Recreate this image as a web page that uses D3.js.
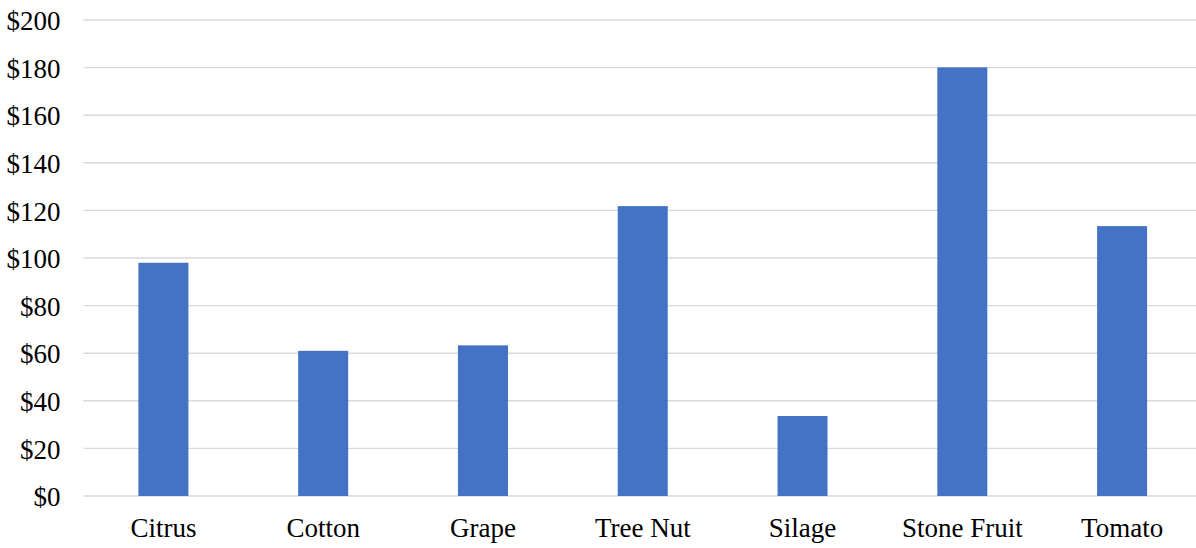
<!DOCTYPE html>
<html>
<head>
<meta charset="utf-8">
<script src="https://cdn.jsdelivr.net/npm/d3@7"></script>
<style>
  html, body { margin: 0; padding: 0; background: #ffffff; }
  svg { display: block; }
  text { font-family: "Liberation Serif", "Times New Roman", serif; fill: #000; }
</style>
</head>
<body>
<svg id="chart" width="1196" height="548"></svg>
<script>
// Crop categories and values (dollars)
const categories = ["Citrus", "Cotton", "Grape", "Tree Nut", "Silage", "Stone Fruit", "Tomato"];
const values = [98, 61, 63.3, 121.8, 33.6, 180.1, 113.4];
const yTicks = [0, 20, 40, 60, 80, 100, 120, 140, 160, 180, 200];

const svg = d3.select("#chart");
const width = 1196, height = 548;
const plot = { left: 83.5, right: 1202, top: 20, bottom: 496 };

const x = d3.scaleBand()
  .domain(categories)
  .range([plot.left, plot.right])
  .paddingInner(0.687)
  .paddingOuter(0.3435);

const y = d3.scaleLinear()
  .domain([0, 200])
  .range([plot.bottom, plot.top]);

// Horizontal gridlines
svg.append("g")
  .selectAll("line")
  .data(yTicks)
  .join("line")
  .attr("x1", plot.left)
  .attr("x2", width)
  .attr("y1", d => y(d))
  .attr("y2", d => y(d))
  .attr("stroke", "#d9d9d9")
  .attr("stroke-width", 1.4);

// Y axis labels
const yAxis = d3.axisLeft(y)
  .tickValues(yTicks)
  .tickSize(0)
  .tickPadding(0)
  .tickFormat(d => "$" + d);

svg.append("g")
  .attr("transform", `translate(${plot.left - 23},0)`)
  .call(yAxis)
  .call(g => g.select(".domain").remove())
  .call(g => g.selectAll("text")
    .attr("font-family", "'Liberation Serif', 'Times New Roman', serif")
    .attr("font-size", 27)
    .attr("dy", "0.36em")
    .attr("fill", "#000"));

// Bars
svg.append("g")
  .selectAll("rect")
  .data(values)
  .join("rect")
  .attr("x", (d, i) => x(categories[i]))
  .attr("width", x.bandwidth())
  .attr("y", d => y(d))
  .attr("height", d => y(0) - y(d))
  .attr("fill", "#4472c4");

// Category labels
const xAxis = d3.axisBottom(x).tickSize(0).tickPadding(0);
svg.append("g")
  .attr("transform", `translate(0,${y(0)})`)
  .call(xAxis)
  .call(g => g.select(".domain").remove())
  .call(g => g.selectAll("text")
    .attr("font-family", "'Liberation Serif', 'Times New Roman', serif")
    .attr("font-size", 27)
    .attr("dy", null)
    .attr("y", 41)
    .attr("fill", "#000"));
</script>
</body>
</html>
